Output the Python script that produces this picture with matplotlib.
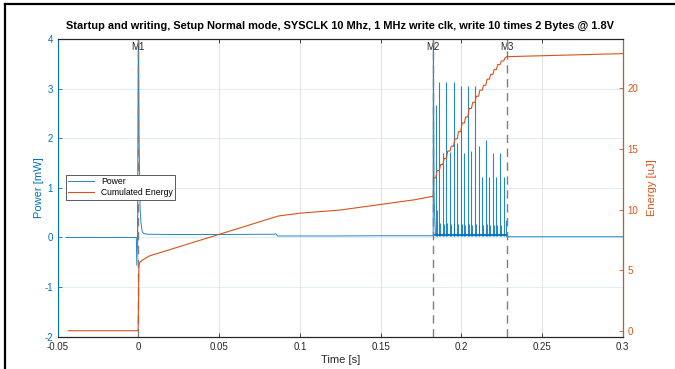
import matplotlib
matplotlib.use("Agg")
import matplotlib.pyplot as plt
from matplotlib.lines import Line2D

plt.rcParams['font.family'] = ['Liberation Sans', 'DejaVu Sans']
plt.rcParams['axes.unicode_minus'] = False

BLUE = '#0072BD'
ORANGE = '#D95319'
DARK = '#262626'

# --- power trace outside the write burst (t [s], P [mW]) ---
pw_t = [-0.0448, -0.0013, -0.0010, -0.0006, 0.0000, 0.0004, 0.0010, 0.0016,
        0.0024, 0.0035, 0.0060, 0.0200, 0.0500, 0.0840, 0.0852, 0.0862,
        0.1200, 0.1500, 0.1826, 0.1827, 0.1831, 0.1835, 0.1840, 0.2000,
        0.2281, 0.2285, 0.2600, 0.3000]
pw_p = [0.0, 0.0, -0.56, -0.10, 4.60, 2.00, 0.60, 0.29,
        0.11, 0.075, 0.065, 0.06, 0.06, 0.065, 0.075, 0.03,
        0.03, 0.035, 0.035, 4.60, 0.95, 0.45, 0.05, 0.05,
        0.05, 0.015, 0.015, 0.015]

# --- write pulses (20 = 10 x 2 bytes) ---
spike_t = [0.1842, 0.1864, 0.1886, 0.1908, 0.1930, 0.1952, 0.1975, 0.1997,
           0.2019, 0.2041, 0.2063, 0.2085, 0.2107, 0.2130, 0.2152, 0.2174,
           0.2196, 0.2218, 0.2240, 0.2263]
spike_p = [2.67, 3.14, 1.70, 3.14, 1.73, 3.14, 1.90, 3.05,
           1.70, 3.05, 1.75, 3.05, 1.84, 1.22, 1.96, 1.22,
           1.70, 1.22, 1.70, 1.22]
# small secondary bumps after each pulse
bump_t = [0.1847, 0.1869, 0.1891, 0.1913, 0.1935, 0.1957, 0.1980, 0.2002,
          0.2024, 0.2046, 0.2068, 0.2090, 0.2112, 0.2135, 0.2157, 0.2179,
          0.2201, 0.2223, 0.2245, 0.2276]
bump_p = [0.55, 0.30, 0.28, 0.30, 0.27, 0.30, 0.27, 0.28,
          0.26, 0.28, 0.26, 0.27, 0.26, 0.25, 0.27, 0.25,
          0.26, 0.25, 0.26, 0.35]

# --- cumulated energy [uJ] ---
en_t = [-0.0434, -0.0002, 0.0000, 0.0003, 0.0010, 0.0030, 0.0070, 0.0485,
        0.0867, 0.1000, 0.1250, 0.1710, 0.1827, 0.1829]
en_v = [0.05, 0.05, 2.0, 5.4, 5.7, 5.9, 6.2, 7.9,
        9.47, 9.7, 9.96, 10.8, 11.1, 12.6]
# energy level reached after each write pulse
en_step = [13.2, 13.7, 14.2, 14.8, 15.2, 15.8, 16.4, 17.1,
           17.6, 18.3, 18.8, 19.3, 19.8, 20.2, 20.7, 21.1,
           21.5, 21.9, 22.2, 22.45]
en_tail_t = [0.2282, 0.3000]
en_tail_v = [22.55, 22.8]

markers = [0.0, 0.1827, 0.2282]
marker_names = ['M1', 'M2', 'M3']

xticks = [-0.05, 0, 0.05, 0.1, 0.15, 0.2, 0.25, 0.3]
xlabels = ['-0.05', '0', '0.05', '0.1', '0.15', '0.2', '0.25', '0.3']

fig = plt.figure(figsize=(6.75, 3.69), dpi=100)
ax = fig.add_axes([0.0855, 0.0875, 0.837, 0.8068])
ax2 = ax.twinx()

# power
line_p, = ax.plot(pw_t, pw_p, color=BLUE, lw=0.7, alpha=0.85, label='Power')
ax.vlines(spike_t, 0.03, spike_p, color=BLUE, lw=0.8, alpha=0.85)
ax.vlines(bump_t, 0.03, bump_p, color=BLUE, lw=0.7, alpha=0.85)
ax.plot([0.1840, 0.2281], [0.05, 0.05], color=BLUE, lw=1.6, alpha=0.85)

# energy: smooth part, then staircase over the burst
et = list(en_t)
ev = list(en_v)
prev = en_v[-1]
for t, e in zip(spike_t, en_step):
    et += [t, t + 0.0008]
    ev += [prev, e]
    prev = e
et += en_tail_t
ev += en_tail_v
line_e, = ax2.plot(et, ev, color=ORANGE, lw=0.8, label='Cumulated Energy')

# marker lines
for m, name in zip(markers, marker_names):
    ax.axvline(m, color='#7f7f7f', lw=1.0, ls=(0, (6, 4)), zorder=5)
    ax.text(m, 3.94, name, ha='center', va='top', fontsize=7, color=DARK)

ax.set_xlim(-0.05, 0.3)
ax.set_ylim(-2, 4)
ax2.set_ylim(-0.44, 24.0)
ax.set_xticks(xticks)
ax.set_xticklabels(xlabels)
ax.set_yticks(range(-2, 5))
ax2.set_yticks([0, 5, 10, 15, 20])

ax.grid(axis='x', color='#dedede', lw=0.6)
ax.grid(axis='y', color='#d9eaf5', lw=0.6)
ax.set_axisbelow(True)

for a in (ax, ax2):
    a.tick_params(direction='in', length=3, width=0.6, labelsize=7)
ax.tick_params(axis='x', colors=DARK, top=True, pad=4)
ax.tick_params(axis='y', colors=BLUE)
ax2.tick_params(axis='y', colors=ORANGE)
ax.spines['left'].set_color(BLUE)
ax2.spines['left'].set_visible(False)
ax2.spines['right'].set_color(ORANGE)
ax2.spines['top'].set_color(DARK)
ax2.spines['bottom'].set_color(DARK)
for a in (ax, ax2):
    for s in a.spines.values():
        s.set_linewidth(0.8)

ax.set_xlabel('Time [s]', fontsize=8, color=DARK, labelpad=2)
ax.set_ylabel('Power [mW]', fontsize=8, color=BLUE, labelpad=0)
ax2.set_ylabel('Energy [uJ]', fontsize=8, color=ORANGE, labelpad=6)
ax.set_title('Startup and writing, Setup Normal mode, SYSCLK 10 Mhz, 1 MHz write clk, '
             'write 10 times 2 Bytes @ 1.8V', fontsize=7.9, fontweight='bold', pad=7)

leg = ax2.legend(handles=[line_p, line_e], loc='lower left',
                 bbox_to_anchor=(0.014, 0.459), fontsize=6.2, fancybox=False,
                 edgecolor='#5a5a5a', framealpha=1, borderpad=0.3,
                 handlelength=3.0, labelspacing=0.25, borderaxespad=0)
leg.get_frame().set_linewidth(0.7)

# screenshot frame
fig.add_artist(Line2D([0.008, 0.008], [0, 0.99], color='black', lw=1.6))
fig.add_artist(Line2D([0.008, 1.0], [0.99, 0.99], color='black', lw=1.6))

fig.savefig('out.png', dpi=100)
